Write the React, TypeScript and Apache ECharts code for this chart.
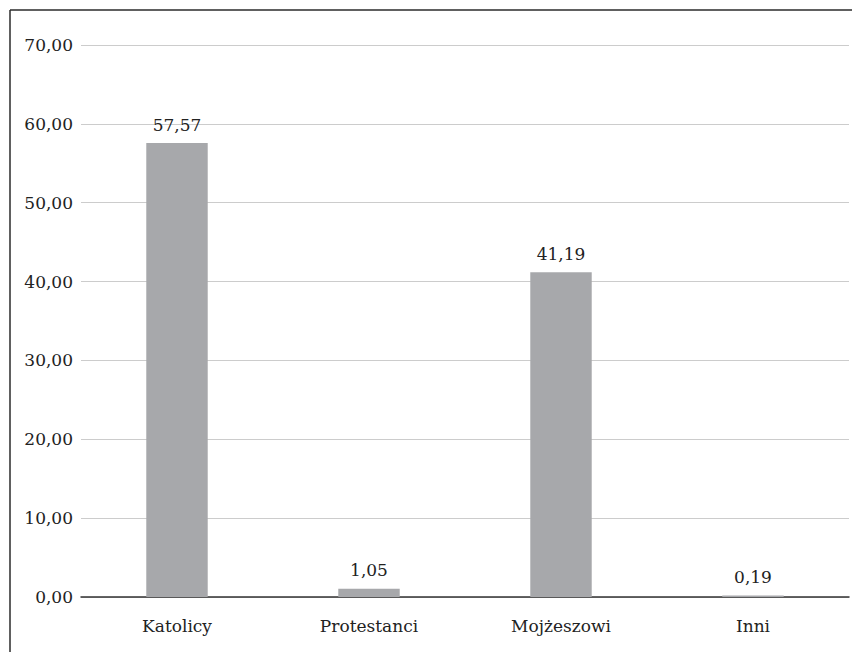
import React, { useEffect, useRef } from "react";
import * as echarts from "echarts";

const categories = ["Katolicy", "Protestanci", "Mojżeszowi", "Inni"];
const values = [57.57, 1.05, 41.19, 0.19];
const yMin = 0;
const yMax = 70;
const yInterval = 10;

const fmt = (v: number) => v.toFixed(2).replace(".", ",");
const FONT = "DejaVu Serif";

export default function App() {
  const ref = useRef<HTMLDivElement>(null);
  useEffect(() => {
    document.body.style.margin = "0";
    const chart = echarts.init(ref.current!, null, { renderer: "svg" });
    chart.setOption({
      animation: false,
      backgroundColor: "#ffffff",
      textStyle: { fontFamily: FONT },
      grid: { left: 81, right: 3, top: 45, bottom: 55, containLabel: false },
      xAxis: {
        type: "category",
        data: categories,
        axisLine: { lineStyle: { color: "#333333", width: 1.5 } },
        axisTick: { show: false },
        axisLabel: { color: "#222222", fontSize: 17, fontFamily: FONT, margin: 20 },
      },
      yAxis: {
        type: "value",
        min: yMin,
        max: yMax,
        interval: yInterval,
        axisLine: { show: false },
        axisTick: { show: false },
        axisLabel: {
          color: "#222222",
          fontSize: 17,
          fontFamily: FONT,
          margin: 8,
          formatter: (v: number) => fmt(v),
        },
        splitLine: { lineStyle: { color: "#cccccc", width: 1 } },
      },
      series: [
        {
          type: "bar",
          data: values,
          barWidth: "32%",
          itemStyle: { color: "#a7a8ab" },
          label: {
            show: true,
            position: "top",
            distance: 10,
            color: "#222222",
            fontSize: 17,
            fontFamily: FONT,
            formatter: (p: any) => fmt(p.value),
          },
        },
      ],
      graphic: [
        {
          type: "line",
          shape: { x1: 10, y1: 10, x2: 852, y2: 10 },
          style: { stroke: "#2b2b2b", lineWidth: 1.5 },
          silent: true,
        },
        {
          type: "line",
          shape: { x1: 10, y1: 10, x2: 10, y2: 652 },
          style: { stroke: "#2b2b2b", lineWidth: 1.5 },
          silent: true,
        },
      ],
    });
    return () => chart.dispose();
  }, []);
  return <div ref={ref} style={{ width: 852, height: 652 }} />;
}
